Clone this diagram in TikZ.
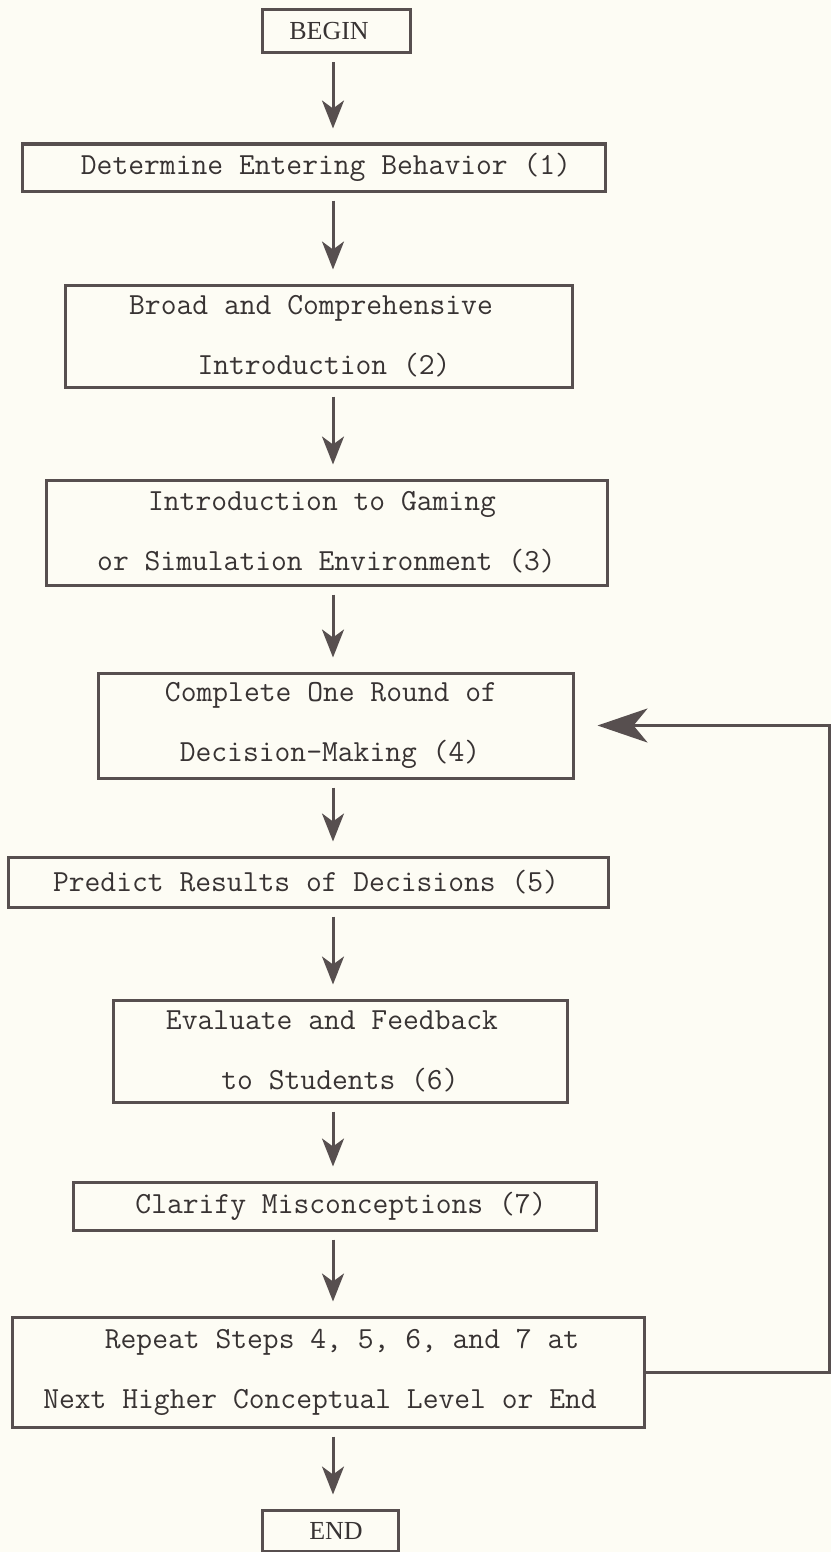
\documentclass[tikz,border=0pt]{standalone}
\usepackage{fontspec}
\newfontfamily\termfont{Liberation Serif}
\usetikzlibrary{arrows.meta}

\definecolor{paper}{rgb}{0.992,0.990,0.955}
\definecolor{ink}{rgb}{0.34,0.31,0.31}
\definecolor{typeink}{rgb}{0.22,0.20,0.20}

% shift one typed line sideways inside its centred box
\newcommand\nudge[1]{\hspace*{#1pt}}

\begin{document}
\begin{tikzpicture}[x=1pt,y=-1pt,
  stepbox/.style={draw=ink, line width=3pt, rectangle, inner sep=0pt,
    align=center, text=typeink,
    font=\fontsize{30.7pt}{60pt}\selectfont\ttfamily},
  termbox/.style={stepbox, font=\fontsize{26pt}{30pt}\selectfont\termfont},
  flow/.style={draw=ink, line width=3pt,
    -{Stealth[length=28pt,width=22pt,inset=8pt]},
    shorten <=8pt, shorten >=14pt},
  loopback/.style={draw=ink, line width=3pt,
    -{Stealth[length=50pt,width=34pt,inset=14pt]},
    shorten >=23pt}]

\fill[paper] (0,0) rectangle (831,1552);
\useasboundingbox (0,0) rectangle (831,1552);

% vertical line the down arrows follow, and the right side of the return loop
\coordinate (axis) at (333,0);
\coordinate (loopR) at (829,0);

\node[termbox, minimum width=148pt, minimum height=43pt] (begin) at (336,31.5)
  {\nudge{-14}BEGIN};
\node[stepbox, minimum width=583pt, minimum height=47pt] (b1) at (313.5,167.5)
  {\nudge{25}Determine Entering Behavior (1)};
\node[stepbox, minimum width=507pt, minimum height=102pt] (b2) at (318.5,336)
  {\nudge{-15}Broad and Comprehensive\\ \nudge{11}Introduction (2)};
\node[stepbox, minimum width=561pt, minimum height=105pt] (b3) at (326.5,532.5)
  {\nudge{-9}Introduction to Gaming\\ or Simulation Environment (3)};
\node[stepbox, minimum width=475pt, minimum height=105pt] (b4) at (335.5,725.5)
  {\nudge{-9}Complete One Round of\\ \nudge{-11}Decision-Making (4)};
\node[stepbox, minimum width=600pt, minimum height=50pt] (b5) at (308,882)
  {\nudge{-4}Predict Results of Decisions (5)};
\node[stepbox, minimum width=454pt, minimum height=102pt] (b6) at (340,1051)
  {\nudge{-16}Evaluate and Feedback\\ to Students (6)};
\node[stepbox, minimum width=523pt, minimum height=48pt] (b7) at (334.5,1206)
  {\nudge{13}Clarify Misconceptions (7)};
\node[stepbox, minimum width=632pt, minimum height=110pt] (b8) at (328,1372)
  {\nudge{28}Repeat Steps 4, 5, 6, and 7 at\\ \nudge{-16}Next Higher Conceptual Level or End};
\node[termbox, minimum width=136pt, minimum height=41pt] (end) at (330,1530.5)
  {\nudge{12}END};

\draw[flow] (begin.south -| axis) -- (b1.north -| axis);
\draw[flow] (b1.south -| axis) -- (b2.north -| axis);
\draw[flow] (b2.south -| axis) -- (b3.north -| axis);
\draw[flow] (b3.south -| axis) -- (b4.north -| axis);
\draw[flow] (b4.south -| axis) -- (b5.north -| axis);
\draw[flow] (b5.south -| axis) -- (b6.north -| axis);
\draw[flow] (b6.south -| axis) -- (b7.north -| axis);
\draw[flow] (b7.south -| axis) -- (b8.north -| axis);
\draw[flow] (b8.south -| axis) -- (end.north -| axis);

% return path from the last step back to step 4
\draw[loopback] (b8.east) -| (loopR |- b4.east) -- (b4.east);
\end{tikzpicture}
\end{document}
